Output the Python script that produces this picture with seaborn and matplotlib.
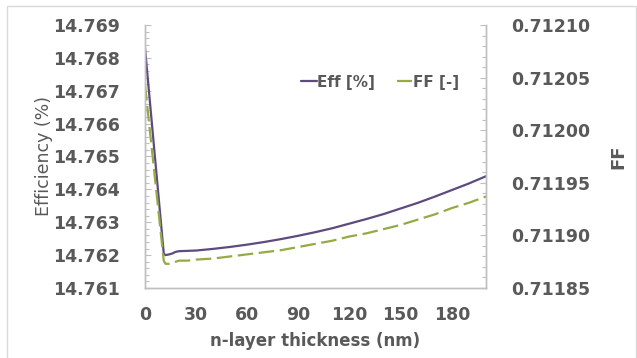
import numpy as np
import pandas as pd
import matplotlib
matplotlib.use("Agg")
import matplotlib.pyplot as plt
import seaborn as sns
from matplotlib.ticker import MultipleLocator, FormatStrFormatter
from matplotlib.patches import Rectangle

# ---- data ----
thickness = [0, 11, 12, 14, 16, 18, 20, 25, 30, 40, 50, 60, 70, 80, 90, 100,
             110, 120, 130, 140, 150, 160, 170, 180, 190, 200]
eff = [14.7683, 14.76205, 14.7620, 14.76202, 14.76205, 14.7621, 14.76212, 14.76213,
       14.76214, 14.76219, 14.76225, 14.76232, 14.76240, 14.76249, 14.76259, 14.76270,
       14.76282, 14.76296, 14.76310, 14.76325, 14.76342, 14.76359, 14.76378, 14.76398,
       14.76418, 14.76440]
ff = [0.712043, 0.711876, 0.711873, 0.711873, 0.711874, 0.711875, 0.711876, 0.711876,
      0.711877, 0.711878, 0.711880, 0.711882, 0.711884, 0.711886, 0.711889, 0.711892,
      0.711895, 0.711899, 0.711902, 0.711906, 0.711910, 0.711915, 0.711920, 0.711926,
      0.711931, 0.711937]
x_ticks = [0, 30, 60, 90, 120, 150, 180]
eff_label = "Eff [%]"
ff_label = "FF [-]"

df = pd.DataFrame({"x": thickness, "eff": eff, "ff": ff})

sns.set_style("white")
plt.rcParams["font.family"] = ["DejaVu Sans"]

TXT = "#595959"
AXC = "#bfbfbf"
PURPLE = "#5E4A7E"
GREEN = "#93AA45"

fig = plt.figure(figsize=(6.37, 3.58), dpi=100)
ax = fig.add_axes([145/637, 1-288/358, (486-145)/637, (288-25)/358])
ax2 = ax.twinx()

sns.lineplot(data=df, x="x", y="eff", ax=ax, color=PURPLE, linewidth=1.6, label=eff_label, legend=False)
sns.lineplot(data=df, x="x", y="ff", ax=ax2, color=GREEN, linewidth=1.6, label=ff_label, legend=False)
ax2.lines[0].set_dashes([7, 2.5])

ax.set_xlim(0, 200)
ax.set_ylim(14.761, 14.769)
ax2.set_ylim(0.71185, 0.71210)

ax.set_xticks(x_ticks)
ax.xaxis.set_minor_locator(MultipleLocator(5))
ax.yaxis.set_major_locator(MultipleLocator(0.001))
ax.yaxis.set_minor_locator(MultipleLocator(0.0002))
ax.yaxis.set_major_formatter(FormatStrFormatter("%.3f"))
ax2.yaxis.set_major_locator(MultipleLocator(0.00005))
ax2.yaxis.set_minor_locator(MultipleLocator(0.00001))
ax2.yaxis.set_major_formatter(FormatStrFormatter("%.5f"))

for a in (ax, ax2):
    for s in a.spines.values():
        s.set_color(AXC)
        s.set_linewidth(1.0)
    a.spines["top"].set_visible(False)

ax.tick_params(axis="x", which="major", direction="in", length=5, width=0.8, color=AXC,
               pad=13, labelsize=12.5, labelcolor=TXT)
ax.tick_params(axis="x", which="minor", direction="in", length=3, width=0.8, color=AXC)
ax.tick_params(axis="y", which="major", direction="in", length=4, width=0.8, color=AXC,
               pad=18, labelsize=12.5, labelcolor=TXT)
ax.tick_params(axis="y", which="minor", direction="in", length=3, width=0.8, color=AXC)
ax2.tick_params(axis="y", which="major", direction="in", length=4, width=0.8, color=AXC,
                pad=18, labelsize=12.5, labelcolor=TXT)
ax2.tick_params(axis="y", which="minor", direction="in", length=3, width=0.8, color=AXC)
for lab in ax.get_xticklabels() + ax.get_yticklabels() + ax2.get_yticklabels():
    lab.set_fontweight("bold")

ax.set_xlabel("n-layer thickness (nm)", fontsize=12, fontweight="bold", color=TXT, labelpad=6)
ax.set_ylabel("Efficiency (%)", fontsize=12.5, color=TXT, labelpad=0)
ax2.set_ylabel("FF", fontsize=13, fontweight="bold", color=TXT, labelpad=14)

handles = [ax.lines[0], ax2.lines[0]]
leg = ax.legend(handles, [eff_label, ff_label], ncol=2, frameon=False,
                loc="center", bbox_to_anchor=((380-145)/341, (288-82)/263),
                handlelength=1.0, handletextpad=0.05, columnspacing=1.4,
                prop={"size": 11, "weight": "bold"})
for t in leg.get_texts():
    t.set_color(TXT)

fig.patches.append(Rectangle((7/637, -0.05), (636-7)/637, 1.05-6/358,
                             transform=fig.transFigure, fill=False,
                             edgecolor="#d9d9d9", linewidth=1.0))

fig.savefig("out.png", dpi=100)
